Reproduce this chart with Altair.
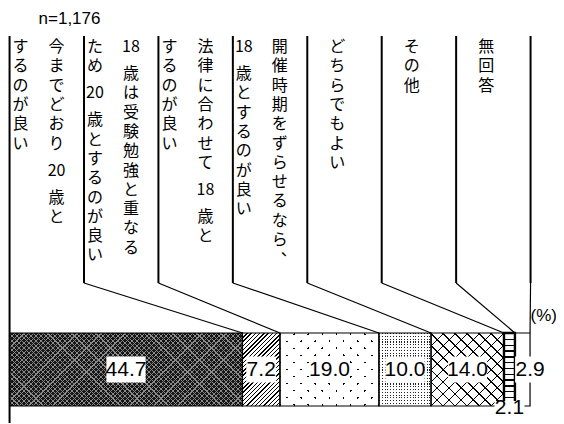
import altair as alt
import pandas as pd
import numpy as np

# ---------------- data ----------------
label_lines = [
    ["今までどおり 20 歳と", "するのが良い"],
    ["18 歳は受験勉強と重なる", "ため 20 歳とするのが良い"],
    ["法律に合わせて 18 歳と", "するのが良い"],
    ["開催時期をずらせるなら、", "18 歳とするのが良い"],
    ["どちらでもよい"],
    ["その他"],
    ["無回答"],
]
values = [44.7, 7.2, 19.0, 10.0, 14.0, 2.1, 2.9]
sample_label = "n=1,176"
unit_label = "(%)"

# ---------------- layout / style ----------------
PX = 5.21                      # pixels per percent
X_MIN = -0.3
WIDTH = 523
HEIGHT = 415
PAD_RIGHT = 25
X_MAX = X_MIN + WIDTH / PX
TOP_Y = 28
COL_BOTTOM_Y = 275
BAR_TOP = 325
BAR_BOTTOM = 398
BAR_H = BAR_BOTTOM - BAR_TOP
TEXT_TOP = 39
STEP = 19.3
SPACE = 0.4
JP_FONT = "Noto Sans CJK JP"
NUM_FONT = "Liberation Sans Narrow, Liberation Sans, Arial"
TR = "rgba(255,255,255,0)"

xscale = alt.Scale(domain=[X_MIN, X_MAX], nice=False, zero=False)
n_cat = len(values)
col_w = 100.0 / n_cat

seg = pd.DataFrame({"idx": list(range(n_cat)), "value": values})
seg["end"] = seg["value"].cumsum()
seg["start"] = seg["end"] - seg["value"]
seg["mid"] = (seg["start"] + seg["end"]) / 2


def stripe_gradient(w, h, theta_deg, period, lw, line_color, bg_color):
    th = np.radians(theta_deg)
    c, s = np.cos(th), np.sin(th)
    corners = [(0.0, 0.0), (w, 0.0), (0.0, h), (w, h)]
    sv = [x * c + y * s for x, y in corners]
    smin, smax = min(sv), max(sv)
    S = smax - smin
    i0 = int(np.argmin(sv))
    u0, v0 = corners[i0][0] / w, corners[i0][1] / h
    L2 = w * w * c * c + h * h * s * s
    k = S / L2
    dx, dy = k * w * c, k * h * s
    stops = [{"offset": 0, "color": bg_color}]
    n0 = int(np.floor(smin / period)) - 1
    n1 = int(np.ceil(smax / period)) + 1
    for n in range(n0, n1 + 1):
        a = (n * period - smin) / S
        b = a + lw / S
        if b <= 0 or a >= 1:
            continue
        a = max(a, 0.0)
        b = min(b, 1.0)
        stops += [
            {"offset": round(a, 5), "color": bg_color},
            {"offset": round(a, 5), "color": line_color},
            {"offset": round(b, 5), "color": line_color},
            {"offset": round(b, 5), "color": bg_color},
        ]
    stops.append({"offset": 1, "color": bg_color})
    return {"gradient": "linear", "x1": round(u0, 5), "y1": round(v0, 5),
            "x2": round(u0 + dx, 5), "y2": round(v0 + dy, 5), "stops": stops}


# fill styles: (base colour, [overlay stripes (angle, period, width, line, bg)])
styles = [
    ("#161616", [(45, 3.4, 0.8, "#8a8a8a", TR), (135, 3.4, 0.8, "#8a8a8a", TR)]),
    ("white", [(45, 3.0, 1.0, "black", TR)]),
    ("black", [(45, 10.0, 1.6, TR, "white"), (135, 10.0, 1.6, TR, "white")]),
    ("#222222", [(0, 2.8, 1.1, TR, "white"), (90, 2.8, 1.1, TR, "white")]),
    ("white", [(45, 8.5, 1.2, "black", TR), (135, 8.5, 1.2, "black", TR)]),
    ("white", [(90, 5.8, 1.4, "black", TR)]),
    ("white", []),
]

enc_bar = dict(
    x=alt.X("start:Q", scale=xscale, axis=None),
    x2="end:Q",
    y=alt.value(BAR_TOP),
    y2=alt.value(BAR_BOTTOM),
)

layers = []
base = alt.Chart(seg)
for i, (bcol, overlays) in enumerate(styles):
    w = values[i] * PX
    layers.append(base.transform_filter(alt.datum.idx == i)
                  .mark_rect(fill=bcol).encode(**enc_bar))
    for (ang, per, lw, lc, bg) in overlays:
        g = stripe_gradient(w, BAR_H, ang, per, lw, lc, bg)
        layers.append(base.transform_filter(alt.datum.idx == i)
                      .mark_rect(fill=g).encode(**enc_bar))

# segment borders
layers.append(base.mark_rect(fillOpacity=0, stroke="black", strokeWidth=1.2).encode(**enc_bar))
layers.append(base.transform_filter(alt.datum.idx == 5)
              .mark_rect(fillOpacity=0, stroke="black", strokeWidth=2.4).encode(**enc_bar))

# column separator lines and leader lines
cols = pd.DataFrame({"k": list(range(n_cat + 1))})
cols["colx"] = cols["k"] * col_w
cols["end"] = [0.0] + list(seg["end"])
layers.append(alt.Chart(cols[cols.k > 0]).mark_rule(color="black", strokeWidth=2).encode(
    x=alt.X("colx:Q", scale=xscale, axis=None),
    y=alt.value(TOP_Y), y2=alt.value(COL_BOTTOM_Y)))
layers.append(alt.Chart(cols[cols.k > 0]).mark_rule(color="black", strokeWidth=1.2).encode(
    x=alt.X("colx:Q", scale=xscale, axis=None), x2="end:Q",
    y=alt.value(COL_BOTTOM_Y), y2=alt.value(BAR_TOP)))
layers.append(alt.Chart(cols[cols.k == 0]).mark_rule(color="black", strokeWidth=2).encode(
    x=alt.X("colx:Q", scale=xscale, axis=None),
    y=alt.value(TOP_Y), y2=alt.value(HEIGHT)))

# vertical category text, one glyph per row
def tokens(line):
    out, buf = [], ""
    for ch in line:
        if ch.isdigit():
            buf += ch
            continue
        if buf:
            out.append(buf)
            buf = ""
        out.append(ch)
    if buf:
        out.append(buf)
    return out

rows = []
for i, lines in enumerate(label_lines):
    offs = [30] if len(lines) == 1 else [47, 11]
    for j, line in enumerate(lines):
        cur = 0.0
        for t in tokens(line):
            if t == " ":
                cur += SPACE
                continue
            gx = i * col_w + offs[j] / PX
            gy = TEXT_TOP + cur * STEP
            if t in "、。":           # vertical punctuation sits top-right
                gx += 9 / PX
                gy -= 9
            rows.append({"g": t, "gx": gx, "gy": gy})
            cur += 1
glyphs = pd.DataFrame(rows)
layers.append(alt.Chart(glyphs).mark_text(font=JP_FONT, fontSize=16, color="black",
                                          align="center", baseline="middle").encode(
    x=alt.X("gx:Q", scale=xscale, axis=None),
    y=alt.Y("gy:Q", scale=None, axis=None),
    text="g:N"))

# value labels
lab = seg.copy()
lab["text"] = [f"{v:.1f}" for v in values]
lab["lx"] = lab["mid"]
lab["ly"] = (BAR_TOP + BAR_BOTTOM) / 2
lab["kind"] = "in"
small = lab["value"] < 5
last = lab["idx"] == n_cat - 1
lab.loc[small & ~last, "ly"] = BAR_BOTTOM + 2
lab.loc[small & ~last, "kind"] = "below"
lab.loc[small & last, "lx"] = lab.loc[small & last, "end"]
lab["bw"] = lab["text"].str.len() * 9.3 + 2

layers.append(alt.Chart(lab[lab.kind == "in"]).mark_tick(
    orient="horizontal", thickness=26, color="white", opacity=1).encode(
    x=alt.X("lx:Q", scale=xscale, axis=None),
    y=alt.Y("ly:Q", scale=None, axis=None),
    size=alt.Size("bw:Q", scale=None, legend=None)))
layers.append(alt.Chart(lab[lab.kind == "below"]).mark_tick(
    orient="horizontal", thickness=14, color="white", opacity=1).encode(
    x=alt.X("lx:Q", scale=xscale, axis=None),
    y=alt.Y("ly:Q", scale=None, axis=None),
    size=alt.Size("bw:Q", scale=None, legend=None)))
layers.append(alt.Chart(lab).mark_text(font=NUM_FONT, fontSize=21, color="black",
                                       align="center", baseline="middle").encode(
    x=alt.X("lx:Q", scale=xscale, axis=None),
    y=alt.Y("ly:Q", scale=None, axis=None),
    text="text:N"))

# annotations
ann = pd.DataFrame({"t": [sample_label, unit_label],
                    "ax": [29 / PX, 521 / PX], "ay": [11, 308]})
layers.append(alt.Chart(ann).mark_text(font="Liberation Sans, Arial", fontSize=17, color="black",
                                       align="left", baseline="middle").encode(
    x=alt.X("ax:Q", scale=xscale, axis=None),
    y=alt.Y("ay:Q", scale=None, axis=None),
    text="t:N"))

chart = alt.layer(*layers).properties(
    width=WIDTH, height=HEIGHT,
    padding={"left": 0, "top": 0, "right": PAD_RIGHT, "bottom": 0},
    autosize=alt.AutoSizeParams(type="none"),
).configure_view(stroke=None)

chart.save("out.html", embed_options={"renderer": "svg", "actions": False})
